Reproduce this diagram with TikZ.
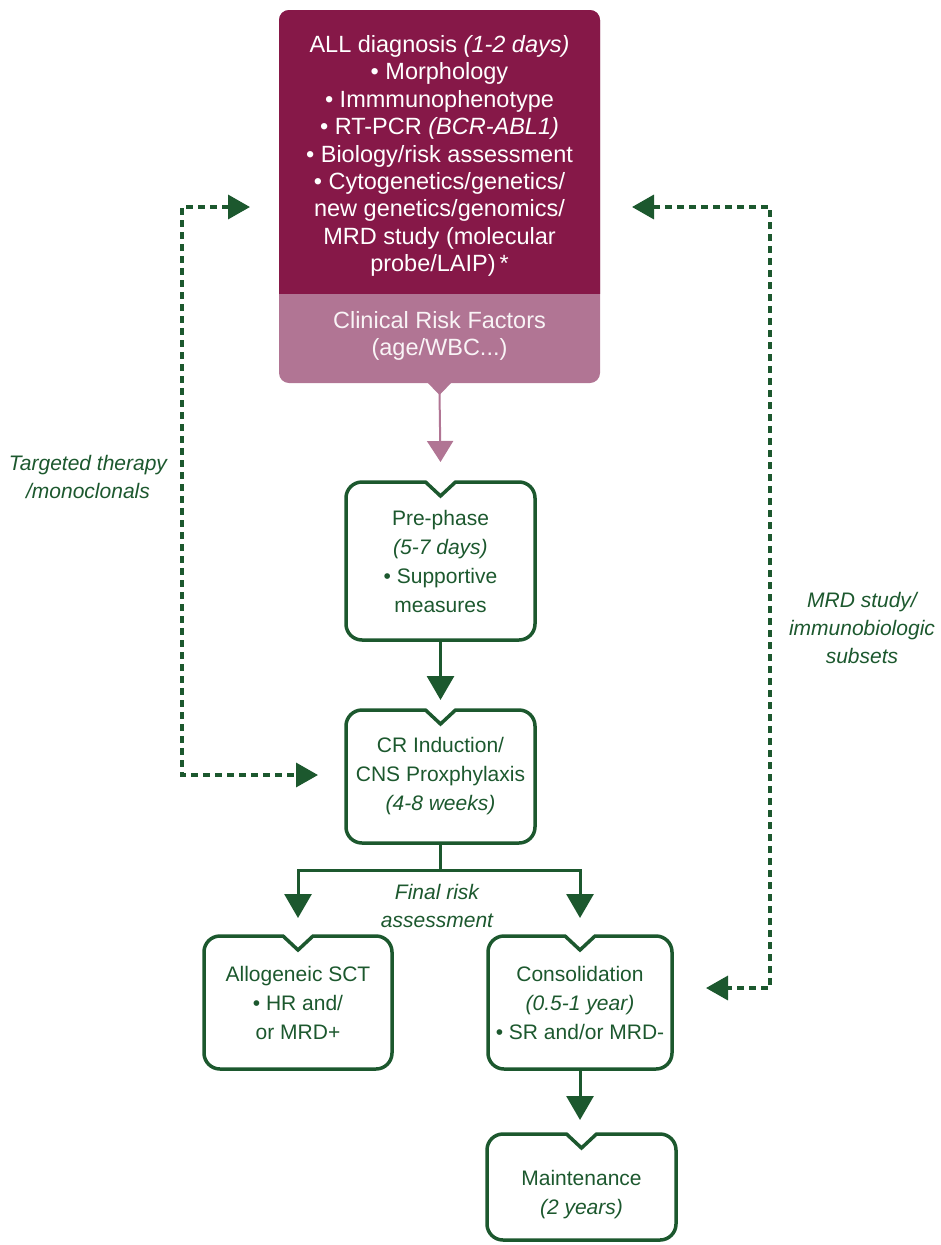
\documentclass[tikz,border=0pt]{standalone}
\usepackage{fontspec}
\setmainfont{Liberation Sans}
\usetikzlibrary{arrows.meta,calc}
\definecolor{grn}{RGB}{28,88,46}
\definecolor{maroon}{RGB}{134,24,72}
\definecolor{mauve}{RGB}{177,117,148}
\tikzset{
 txt/.style={inner sep=0pt, outer sep=0pt, align=center, font=\fontsize{21}{29}\selectfont, text=grn},
 toptxt/.style={inner sep=0pt, outer sep=0pt, align=center, font=\fontsize{23.5}{27.4}\selectfont, text=white},
 frame/.style={draw=grn, line width=3.5pt},
 garrow/.style={draw=grn, line width=3pt, -{Triangle[length=24pt,width=27pt]}},
 dasharrow/.style={draw=grn, line width=3.5pt, dash pattern=on 7pt off 5pt, {Triangle[length=22pt,width=24pt]}-{Triangle[length=22pt,width=24pt]}},
 lab/.style={align=center, text=grn, inner sep=0pt, font=\fontsize{21}{28}\selectfont\itshape},
}
\newcommand\notchframe[1]{%
 \draw[frame, rounded corners=16pt] ([xshift=15pt]#1.north) -- (#1.north east) -- (#1.south east)
   -- (#1.south west) -- (#1.north west) [sharp corners] -- ([xshift=-15pt]#1.north)
   -- ([yshift=-14pt]#1.north) -- cycle;}
\begin{document}
\begin{tikzpicture}[x=1pt,y=-1pt]
\useasboundingbox (0,0) rectangle (941,1245);
% top box
\fill[mauve, rounded corners=10pt] (279,10) rectangle (600,383);
\begin{scope}
 \clip (270,0) rectangle (610,293);
 \fill[maroon, rounded corners=10pt] (279,10) rectangle (600,383);
\end{scope}
\fill[mauve] (426,381) -- (453,381) -- (439.5,395) -- cycle;
\node[toptxt, minimum width=321pt, minimum height=283pt] (diag) at (439.5,156) {ALL diagnosis \textit{(1-2 days)}\\
• Morphology\\
• Immmunophenotype\\
• RT-PCR \textit{(BCR-ABL1)}\\
• Biology/risk assessment\\
• Cytogenetics/genetics/\\
new genetics/genomics/\\
MRD study (molecular\\
probe/LAIP)\,*};
\node[toptxt, text=white!92!mauve, minimum width=321pt] (clin) at (439.5,336) {Clinical Risk Factors\\(age/WBC...)};
\coordinate (clintip) at (439.5,393);
% green boxes
\node[txt, minimum width=189pt, minimum height=158pt] (pre) at (440.5,561) {Pre-phase\\\textit{(5-7 days)}\\• Supportive\\measures};
\node[txt, minimum width=189pt, minimum height=133pt] (cr) at (440.5,776.5) {CR Induction/\\CNS Proxphylaxis\\\textit{(4-8 weeks)}};
\node[txt, minimum width=188pt, minimum height=133pt] (allo) at (298,1002.5) {Allogeneic SCT\\• HR and/\\or MRD+};
\node[txt, minimum width=184pt, minimum height=133pt] (cons) at (580,1002.5) {Consolidation\\\textit{(0.5-1 year)}\\• SR and/or MRD-};
\node[txt, minimum width=189pt, minimum height=106pt] (maint) at (581.5,1187) {};
\node[txt] (mainttxt) at ([yshift=-8pt]maint.center) {Maintenance\\\textit{(2 years)}};
\notchframe{pre}
\notchframe{cr}
\notchframe{allo}
\notchframe{cons}
\notchframe{maint}
% connectors
\draw[mauve, line width=2pt, -{Triangle[length=21pt,width=26pt]}] (clintip) -- ([yshift=20pt]pre.north);
\draw[garrow] (pre.south) -- ([yshift=10pt]cr.north);
\coordinate (split) at (440.5,870);
\draw[grn, line width=3pt] (cr.south) -- (split);
\draw[garrow] (split) -| ([yshift=18pt]allo.north);
\draw[garrow] (split) -| ([yshift=18pt]cons.north);
\draw[garrow] (cons.south) -- ([yshift=14pt]cons.south |- maint.north);
\node[lab] (frisk) at (437,906) {Final risk\\assessment};
% dashed feedback
\coordinate (lt) at (182,207);
\coordinate (lb) at (182,775);
\draw[dasharrow] ($(lt -| diag.west)+(-29,0)$) -- (lt) -- (lb) -- ($(lb -| cr.west)+(-28,0)$);
\coordinate (rt) at (770,207);
\coordinate (rb) at (770,988);
\draw[dasharrow] ($(rt -| diag.east)+(32,0)$) -- (rt) -- (rb) -- ($(rb -| cons.east)+(34,0)$);
\node[lab] (tlab) at (88,477) {Targeted therapy\\/monoclonals};
\node[lab] (mlab) at (862,627.5) {MRD study/\\immunobiologic\\subsets};
\end{tikzpicture}
\end{document}
